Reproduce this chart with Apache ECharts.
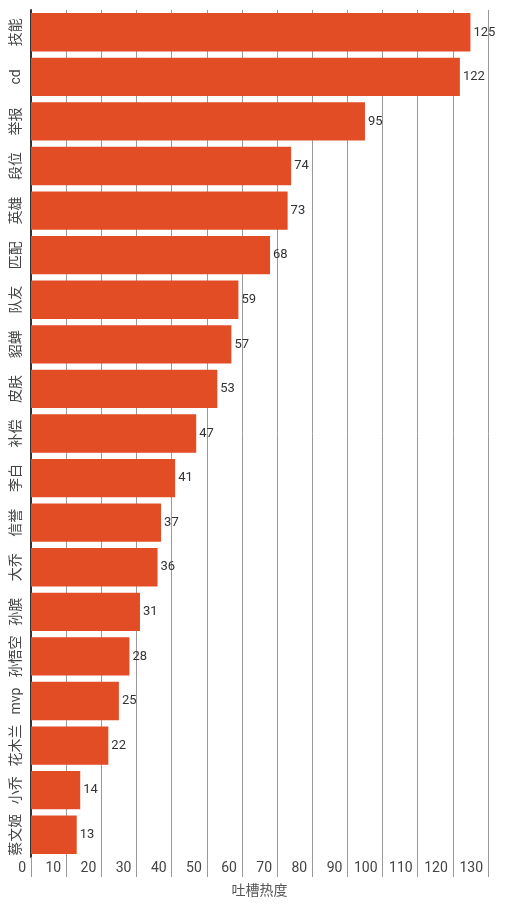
<!DOCTYPE html>
<html>
<head>
<meta charset="utf-8">
<script src="https://cdn.jsdelivr.net/npm/echarts@6/dist/echarts.min.js"></script>
<style>
  html, body { margin: 0; padding: 0; background: #fff; }
  #chart { width: 508px; height: 906px; }
</style>
</head>
<body>
<div id="chart"></div>
<script>
// 吐槽关键词
const categories = ['技能', 'cd', '举报', '段位', '英雄', '匹配', '队友', '貂蝉', '皮肤', '补偿',
    '李白', '信誉', '大乔', '孙膑', '孙悟空', 'mvp', '花木兰', '小乔', '蔡文姬'];
const heat = [125, 122, 95, 74, 73, 68, 59, 57, 53, 47, 41, 37, 36, 31, 28, 25, 22, 14, 13];

const fontFamily = 'Roboto, "Noto Sans CJK SC", sans-serif';

function initChart() {
    const chart = echarts.init(document.getElementById('chart'));
    chart.setOption({
        animation: false,
        textStyle: { fontFamily: fontFamily },
        grid: { left: 31, right: 20, top: 10, bottom: 49, containLabel: false },
        xAxis: {
            type: 'value',
            min: 0,
            max: 130,
            interval: 10,
            name: '吐槽热度',
            nameLocation: 'middle',
            nameGap: 27,
            nameTextStyle: { color: '#555', fontSize: 14, fontFamily: fontFamily },
            axisLine: { show: false },
            axisTick: { show: true, length: 20, lineStyle: { color: '#999' } },
            axisLabel: {
                margin: 4,
                align: 'right',
                padding: [0, 5, 0, 0],
                color: '#444',
                fontSize: 14
            },
            splitLine: { show: true, lineStyle: { color: '#999', width: 1 } }
        },
        yAxis: {
            type: 'category',
            data: categories,
            inverse: true,
            axisLine: { show: true, lineStyle: { color: '#333', width: 2 } },
            axisTick: { show: false },
            axisLabel: { interval: 0, rotate: 90, margin: 8, color: '#444', fontSize: 14 }
        },
        series: [{
            type: 'bar',
            data: heat,
            barCategoryGap: '14%',
            itemStyle: { color: '#e34d26' },
            label: {
                show: true,
                position: 'right',
                distance: 3,
                color: '#333',
                fontSize: 13
            }
        }]
    });
}

document.addEventListener('DOMContentLoaded', initChart);
</script>
</body>
</html>
